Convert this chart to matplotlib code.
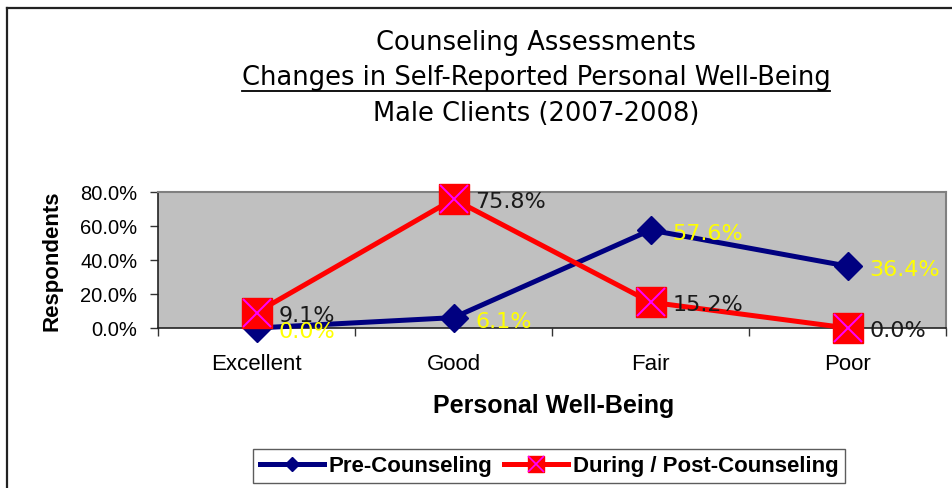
import matplotlib
matplotlib.use("Agg")
import matplotlib.pyplot as plt
from matplotlib.lines import Line2D
from matplotlib.legend_handler import HandlerTuple
from matplotlib.ticker import FuncFormatter, FixedLocator
import numpy as np

categories = ["Excellent", "Good", "Fair", "Poor"]
pre_counseling = [0.0, 0.061, 0.576, 0.364]
post_counseling = [0.091, 0.758, 0.152, 0.0]
series_names = ["Pre-Counseling", "During / Post-Counseling"]
title_lines = ["Counseling Assessments",
               "Changes in Self-Reported Personal Well-Being",
               "Male Clients (2007-2008)"]
yticks = [0.0, 0.2, 0.4, 0.6, 0.8]

NAVY = "#000080"
RED = "#FF0000"
MAGENTA = "#FF00FF"
YELLOW = "#FFFF00"

W, H = 952, 489
fig = plt.figure(figsize=(W / 100, H / 100), dpi=100)
fig.patch.set_facecolor("white")

def fx(px):
    return px / W

def fy(py):
    return 1 - py / H

ax = fig.add_axes([fx(158), fy(329), fx(946) - fx(158), fy(193) - fy(329)])
ax.set_facecolor("#C0C0C0")

x = np.arange(len(categories))
ax.plot(x, pre_counseling, color=NAVY, lw=3.6, marker="D", ms=14,
        mfc=NAVY, mec=NAVY, clip_on=False, zorder=3)
ax.plot(x, post_counseling, color=RED, lw=3.6, marker="s", ms=22,
        mfc=RED, mec=RED, clip_on=False, zorder=4)
ax.plot(x, post_counseling, ls="none", marker="x", ms=20, mew=1.4,
        color=MAGENTA, clip_on=False, zorder=5)

for xi, v in zip(x, pre_counseling):
    ax.annotate(f"{v:.1%}", (xi, v), xytext=(22, -3), textcoords="offset pixels",
                ha="left", va="center", color=YELLOW, fontsize=16,
                family="DejaVu Sans", zorder=6, annotation_clip=False)
for xi, v in zip(x, post_counseling):
    ax.annotate(f"{v:.1%}", (xi, v), xytext=(22, -2), textcoords="offset pixels",
                ha="left", va="center", color="#1a1a1a", fontsize=16,
                family="DejaVu Sans", zorder=6, annotation_clip=False)

ax.set_xlim(-0.5, len(categories) - 0.5)
ax.set_ylim(0, 0.8)
ax.set_yticks(yticks)
ax.yaxis.set_major_formatter(FuncFormatter(lambda v, p: f"{v:.1%}"))
ax.tick_params(axis="y", direction="out", length=6, width=1, color="#333333",
               labelsize=14.5, pad=9)
for lbl in ax.get_yticklabels():
    lbl.set_family("Liberation Sans")

ax.xaxis.set_major_locator(FixedLocator(np.arange(-0.5, len(categories), 1.0)))
ax.xaxis.set_major_formatter(FuncFormatter(lambda v, p: ""))
ax.xaxis.set_minor_locator(FixedLocator(x))
ax.set_xticklabels(categories, minor=True)
ax.tick_params(axis="x", which="major", direction="out", length=6, width=1, color="#333333")
ax.tick_params(axis="x", which="minor", length=0, labelsize=16, pad=18)
for lbl in ax.get_xticklabels(minor=True):
    lbl.set_family("Liberation Sans")

for side in ["top", "right"]:
    ax.spines[side].set_color("#808080")
    ax.spines[side].set_linewidth(1.5)
for side in ["left", "bottom"]:
    ax.spines[side].set_color("#222222")
    ax.spines[side].set_linewidth(1.2)

ax.set_ylabel("Respondents", fontsize=16, fontweight="bold", family="Liberation Sans")
ax.yaxis.set_label_coords((52 - 158) / 788, 0.5)
ax.yaxis.label.set_va("center")
ax.set_xlabel("Personal Well-Being", fontsize=18, fontweight="bold", family="Liberation Sans")
ax.xaxis.set_label_coords((554 - 158) / 788, (329 - 406) / 136)
ax.xaxis.label.set_va("center")

# titles
title_y = [43, 78, 114]
title_texts = []
for line, yy in zip(title_lines, title_y):
    t = fig.text(fx(536), fy(yy), line, ha="center", va="center", fontsize=18.5,
                 family="DejaVu Sans", color="black")
    title_texts.append(t)

# legend
pre_handle = Line2D([], [], color=NAVY, lw=3.6, marker="D", ms=7, mfc=NAVY, mec=NAVY)
post_line = Line2D([], [], color=RED, lw=3.6, marker="s", ms=12, mfc=RED, mec=RED)
post_x = Line2D([], [], ls="none", marker="x", ms=11, mew=1.2, color=MAGENTA)
leg = fig.legend([pre_handle, (post_line, post_x)], series_names,
                 handler_map={tuple: HandlerTuple(ndivide=1)},
                 loc="center", bbox_to_anchor=(fx(549), fy(467)),
                 ncol=2, frameon=True, fancybox=False, shadow=False,
                 prop={"family": "Liberation Sans", "weight": "bold", "size": 16},
                 handlelength=2.9, handletextpad=0.2, columnspacing=0.5,
                 borderpad=0.3, borderaxespad=0)
leg.get_frame().set_edgecolor("#333333")
leg.get_frame().set_linewidth(1.0)

# figure border (left and top visible)
fig.add_artist(Line2D([fx(7), fx(7)], [fy(9), fy(H + 5)], color="#222222", lw=1.6,
                      transform=fig.transFigure))
fig.add_artist(Line2D([fx(7), fx(W + 5)], [fy(9), fy(9)], color="#222222", lw=1.6,
                      transform=fig.transFigure))

# underline the second title line
fig.canvas.draw()
r = fig.canvas.get_renderer()
bb = title_texts[1].get_window_extent(renderer=r)
fig.add_artist(Line2D([bb.x0 / W, bb.x1 / W], [fy(92), fy(92)], color="black", lw=1.3,
                      transform=fig.transFigure))

fig.savefig("out.png", dpi=100)
